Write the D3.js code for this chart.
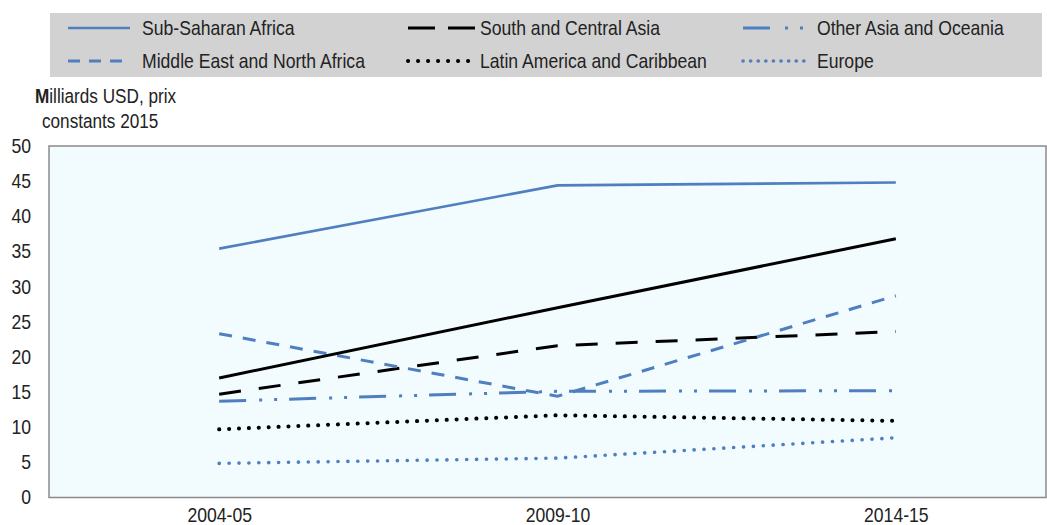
<!DOCTYPE html>
<html>
<head>
<meta charset="utf-8">
<script src="https://cdn.jsdelivr.net/npm/d3@7"></script>
<style>
  body { margin: 0; background: #fff; }
  svg { display: block; font-family: "Liberation Sans", Arial, sans-serif; }
</style>
</head>
<body>
<div class="container"></div>
<script>
const periods = ["2004-05", "2009-10", "2014-15"];
const yTicks = [0, 5, 10, 15, 20, 25, 30, 35, 40, 45, 50];

const subSaharan = [35.4, 44.4, 44.8];
const southCentralAsia = [14.7, 21.6, 23.6];
const otherAsia = [13.7, 15.1, 15.2];
const menaValues = [23.3, 14.4, 28.7];
const latinAmerica = [9.7, 11.7, 10.9];
const europe = [4.85, 5.6, 8.5];
const unlabelled = [17.0, 27.0, 36.8];

const blue = "#4f7fbf";
const textColor = "#222";
const squeeze = "scale(0.88,1)"; // the source font is narrow and tall

/* series: name, values, style */
const series = [
  { name: "Sub-Saharan Africa", values: subSaharan, color: blue, dash: null, legendDash: null, cap: "butt", width: 2.6 },
  { name: "South and Central Asia", values: southCentralAsia, color: "#000", dash: "22,18", legendDash: "27,13", cap: "butt", width: 3 },
  { name: "Other Asia and Oceania", values: otherAsia, color: blue, dash: "27,13,3,12,3,12", legendDash: "27,15,3,12,3,12", cap: "butt", width: 3 },
  { name: "Middle East and North Africa", values: menaValues, color: blue, dash: "13,11", legendDash: "12,9", cap: "butt", width: 3 },
  { name: "Latin America and Caribbean", values: latinAmerica, color: "#000", dash: "0.1,9.8", legendDash: "0.1,9.9", cap: "round", width: 4 },
  { name: "Europe", values: europe, color: blue, dash: "0.1,9.8", legendDash: "0.1,7.5", cap: "round", width: 3.6 },
  { name: null, values: unlabelled, color: "#000", dash: null, legendDash: null, cap: "butt", width: 3 }
];

const w = 1047;
const h = 525;
const plot = { left: 49, right: 1046, top: 146, bottom: 497.5 };

const svg = d3.select(".container")
  .append("svg")
  .attr("width", w)
  .attr("height", h);

/* Scales */
const xScale = d3.scalePoint()
  .domain(periods)
  .range([50, 1065])
  .padding(0.5);

const yScale = d3.scaleLinear()
  .domain([0, 50])
  .range([plot.bottom, plot.top]);

/* Plot area */
svg.append("rect")
  .attr("x", plot.left)
  .attr("y", plot.top)
  .attr("width", plot.right - plot.left)
  .attr("height", plot.bottom - plot.top)
  .attr("fill", "#f2fbfe")
  .attr("stroke", "#8a8a8a")
  .attr("stroke-width", 1.5);

/* Y axis */
const yAxis = d3.axisLeft(yScale).tickValues(yTicks).tickSize(0).tickPadding(0);
svg.append("g")
  .attr("transform", "translate(31,0)")
  .call(yAxis)
  .call(g => g.select(".domain").remove())
  .selectAll("text")
  .attr("font-size", 20)
  .attr("fill", textColor)
  .attr("font-family", "Liberation Sans, Arial, sans-serif")
  .attr("transform", squeeze);

/* X axis */
const xAxis = d3.axisBottom(xScale).tickSize(0).tickPadding(0);
svg.append("g")
  .attr("transform", "translate(0," + 508 + ")")
  .call(xAxis)
  .call(g => g.select(".domain").remove())
  .selectAll("text")
  .attr("font-size", 20)
  .attr("fill", textColor)
  .attr("font-family", "Liberation Sans, Arial, sans-serif")
  .attr("transform", squeeze);

/* Unit label */
const unit = svg.append("text")
  .attr("transform", "translate(35,103) " + squeeze)
  .attr("font-size", 19.5)
  .attr("fill", textColor);
unit.append("tspan").attr("font-weight", "bold").text("M");
unit.append("tspan").text("illiards USD, prix");
svg.append("text")
  .attr("transform", "translate(42,128) " + squeeze)
  .attr("font-size", 19.5)
  .attr("fill", textColor)
  .text("constants  2015");

/* Lines */
const line = d3.line()
  .x((d, i) => xScale(periods[i]))
  .y(d => yScale(d));

svg.append("g")
  .selectAll("path")
  .data(series)
  .enter()
  .append("path")
  .attr("d", d => line(d.values))
  .attr("fill", "none")
  .attr("stroke", d => d.color)
  .attr("stroke-width", d => d.width)
  .attr("stroke-dasharray", d => d.dash)
  .attr("stroke-linecap", d => d.cap);

/* Legend */
svg.append("rect")
  .attr("x", 50).attr("y", 13)
  .attr("width", 992).attr("height", 64)
  .attr("fill", "#d2d2d2");

const legendCols = [
  { lx: 68, len: 62, tx: 142 },
  { lx: 408, len: 69, tx: 480 },
  { lx: 743, len: 62, tx: 817 }
];
const legendRows = [28, 61];
const legendItems = series.filter(s => s.name);

const items = svg.append("g")
  .selectAll("g")
  .data(legendItems)
  .enter()
  .append("g")
  .attr("transform", (d, i) => "translate(0," + legendRows[Math.floor(i / 3)] + ")");

items.append("line")
  .attr("x1", (d, i) => legendCols[i % 3].lx)
  .attr("x2", (d, i) => legendCols[i % 3].lx + legendCols[i % 3].len)
  .attr("y1", 0).attr("y2", 0)
  .attr("stroke", d => d.color)
  .attr("stroke-width", d => d.width)
  .attr("stroke-dasharray", d => d.legendDash)
  .attr("stroke-linecap", d => d.cap);

items.append("text")
  .attr("transform", (d, i) => "translate(" + legendCols[i % 3].tx + ",0) " + squeeze)
  .attr("dy", "0.35em")
  .attr("font-size", 20)
  .attr("fill", textColor)
  .text(d => d.name);
</script>
</body>
</html>
